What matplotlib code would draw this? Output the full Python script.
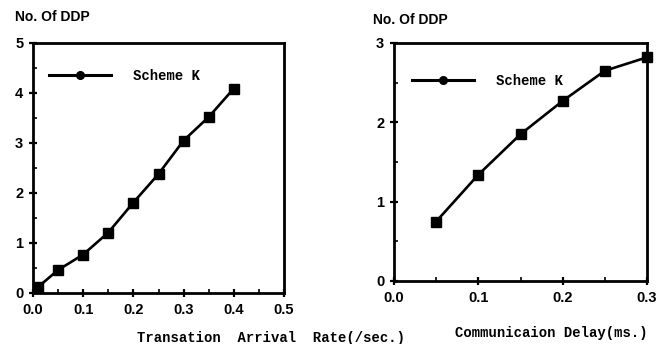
"""
Number of DDP vs arrival rate and communication delay (Scheme K).
"""

from matplotlib import pyplot as plt
from matplotlib.lines import Line2D
from matplotlib.ticker import MultipleLocator

# left panel: transaction arrival rate
rate = [0.01, 0.05, 0.1, 0.15, 0.2, 0.25, 0.3, 0.35, 0.4]
ddp_rate = [0.12, 0.46, 0.77, 1.21, 1.81, 2.38, 3.05, 3.52, 4.09]

# right panel: communication delay
delay = [0.05, 0.1, 0.15, 0.2, 0.25, 0.3]
ddp_delay = [0.75, 1.34, 1.85, 2.27, 2.65, 2.82]

tick_font = {'family': 'Liberation Sans', 'weight': 'bold', 'size': 10.5}
mono = {'family': 'Liberation Mono', 'weight': 'bold', 'size': 10}

fig = plt.figure(figsize=[6.66, 3.44], dpi=100)

ax1 = fig.add_axes([33/666, 51/344, 251/666, 250/344])
ax2 = fig.add_axes([394/666, 63/344, 253/666, 238/344])


def style(ax, xmax, ymax, xstep, ystep):
    ax.set_xlim(0, xmax)
    ax.set_ylim(0, ymax)
    ax.xaxis.set_major_locator(MultipleLocator(xstep))
    ax.yaxis.set_major_locator(MultipleLocator(ystep))
    ax.xaxis.set_minor_locator(MultipleLocator(xstep / 2))
    ax.yaxis.set_minor_locator(MultipleLocator(ystep / 2))
    ax.tick_params(which='major', direction='inout', length=6, width=1.6, pad=4)
    ax.tick_params(which='minor', direction='in', length=3, width=1.2)
    for s in ax.spines.values():
        s.set_linewidth(2)
    ax.set_xticklabels([f'{v:.1f}' for v in ax.get_xticks()], fontdict=tick_font)
    ax.set_yticklabels([f'{v:g}' for v in ax.get_yticks()], fontdict=tick_font)
    ax.set_xlim(0, xmax)
    ax.set_ylim(0, ymax)


ax1.plot(rate, ddp_rate, color='k', lw=1.9, marker='s', ms=6.5, clip_on=False)
style(ax1, 0.5, 5, 0.1, 1)
ax2.plot(delay, ddp_delay, color='k', lw=1.9, marker='s', ms=6.5, clip_on=False)
style(ax2, 0.3, 3, 0.1, 1)

handle = Line2D([], [], color='k', lw=2.2, marker='o', ms=5.5)
for ax, anchor in [(ax1, (0.012, 0.946)), (ax2, (0.02, 0.923))]:
    ax.legend([handle], ['Scheme K'], loc='upper left', bbox_to_anchor=anchor,
              frameon=False, handlelength=4.5, handletextpad=1.55,
              prop={'family': 'Liberation Mono', 'weight': 'bold', 'size': 10})

fig.text(15/666, 1 - 17/344, 'No. Of DDP', family='Liberation Sans', weight='bold',
         size=10, va='center', ha='left')
fig.text(373/666, 1 - 20/344, 'No. Of DDP', family='Liberation Sans', weight='bold',
         size=10, va='center', ha='left')

fig.text(271/666, 1 - 338/344, 'Transation  Arrival  Rate(/sec.)', ha='center',
         va='center', fontdict=mono)
fig.text(551/666, 1 - 333/344, 'Communicaion Delay(ms.)', ha='center',
         va='center', fontdict=mono)

plt.savefig('out.png')
